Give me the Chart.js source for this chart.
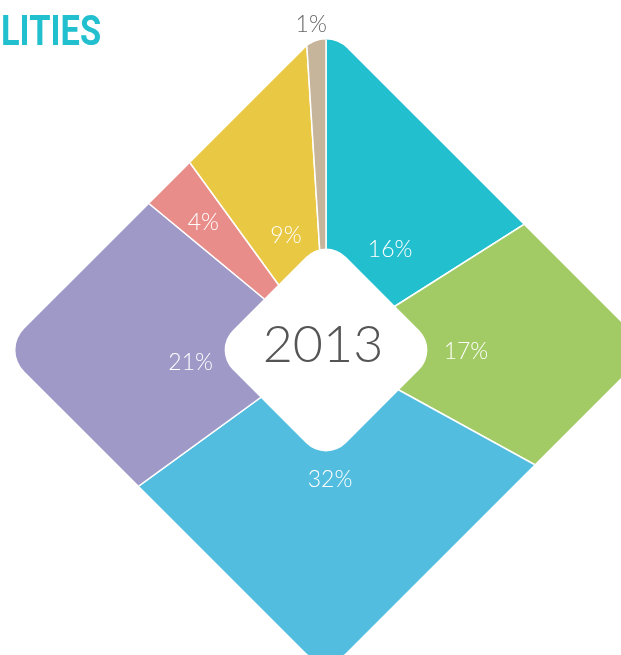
<!DOCTYPE html>
<html>
<head>
<meta charset="utf-8">
<script src="https://cdn.jsdelivr.net/npm/chart.js@4/dist/chart.umd.min.js"></script>
<style>
  html, body { margin: 0; padding: 0; background: #fff; overflow: hidden; }
  #wrap { position: relative; width: 621px; height: 655px; }
  #title {
    position: absolute; left: 1px; top: 5px; margin: 0;
    font-family: "Liberation Sans Narrow", "Roboto", sans-serif;
    font-weight: 700; font-size: 43px; color: #22bfcf;
    transform: scaleX(0.8); transform-origin: left top;
  }
</style>
</head>
<body>
<div id="wrap">
  <canvas id="chart" width="621" height="655"></canvas>
  <h1 id="title">LITIES</h1>
</div>
<script>
// slices, clockwise from 12 o'clock
const categories = ['A', 'B', 'C', 'D', 'E', 'F', 'G'];
const shares = [16, 17, 32, 21, 4, 9, 1];
const sliceColors = ['#22bfcf', '#a2cb65', '#52bddf', '#9f99c8', '#e98d8a', '#e9c843', '#c6b49b'];
const centerLabel = '2013';

// label placement: distance from centre (px) and a small angle nudge (deg)
const labelRadius = [119, 140, 130, 136, 177, 121, 326];
const labelNudge = [3.8, 2.6, 1.8, -7.3, -0.7, 0.5, -0.8];
const labelColor = ['#fff', '#fff', '#fff', '#fff', '#fff', '#fff', '#666'];

function diamondPath(ctx, cx, cy, half, r) {
    // square rotated 45deg with rounded corners
    const s = half * Math.SQRT2;
    ctx.save();
    ctx.translate(cx, cy);
    ctx.rotate(Math.PI / 4);
    const x = -s / 2, y = -s / 2;
    ctx.beginPath();
    ctx.moveTo(x + r, y);
    ctx.arcTo(x + s, y, x + s, y + s, r);
    ctx.arcTo(x + s, y + s, x, y + s, r);
    ctx.arcTo(x, y + s, x, y, r);
    ctx.arcTo(x, y, x + s, y, r);
    ctx.closePath();
    ctx.restore();
}

const diamondClip = {
    id: 'diamondClip',
    beforeDatasetsDraw(chart) {
        const ctx = chart.ctx;
        const arc = chart.getDatasetMeta(0).data[0];
        ctx.save();
        diamondPath(ctx, arc.x, arc.y, 323, 30);
        ctx.clip();
    },
    afterDatasetsDraw(chart) {
        const ctx = chart.ctx;
        ctx.restore();
        const meta = chart.getDatasetMeta(0);
        const cx = meta.data[0].x, cy = meta.data[0].y;

        // centre hole
        ctx.save();
        diamondPath(ctx, cx, cy, 113, 28);
        ctx.fillStyle = '#fff';
        ctx.fill();
        ctx.fillStyle = '#555';
        ctx.font = '300 52px Lato, "Open Sans", sans-serif';
        ctx.textAlign = 'center';
        ctx.textBaseline = 'middle';
        ctx.fillText(centerLabel, cx - 3, cy - 5);
        ctx.restore();

        // percent labels
        ctx.save();
        ctx.font = '300 23px Lato, "Open Sans", sans-serif';
        ctx.textAlign = 'center';
        ctx.textBaseline = 'middle';
        meta.data.forEach((el, i) => {
            const mid = (el.startAngle + el.endAngle) / 2 + labelNudge[i] * Math.PI / 180;
            const x = cx + Math.cos(mid) * labelRadius[i];
            const y = cy + Math.sin(mid) * labelRadius[i];
            ctx.fillStyle = labelColor[i];
            ctx.fillText(shares[i] + '%', x, y);
        });
        ctx.restore();
    }
};

new Chart(document.getElementById('chart'), {
    type: 'pie',
    data: {
        labels: categories,
        datasets: [{
            data: shares,
            backgroundColor: sliceColors,
            borderColor: '#fff',
            borderWidth: 1.5,
            clip: false
        }]
    },
    options: {
        responsive: false,
        animation: false,
        radius: 360,
        layout: { padding: { left: 31, top: 45, right: 0, bottom: 0 } },
        plugins: {
            legend: { display: false },
            tooltip: { enabled: false }
        }
    },
    plugins: [diamondClip]
});
</script>
</body>
</html>
